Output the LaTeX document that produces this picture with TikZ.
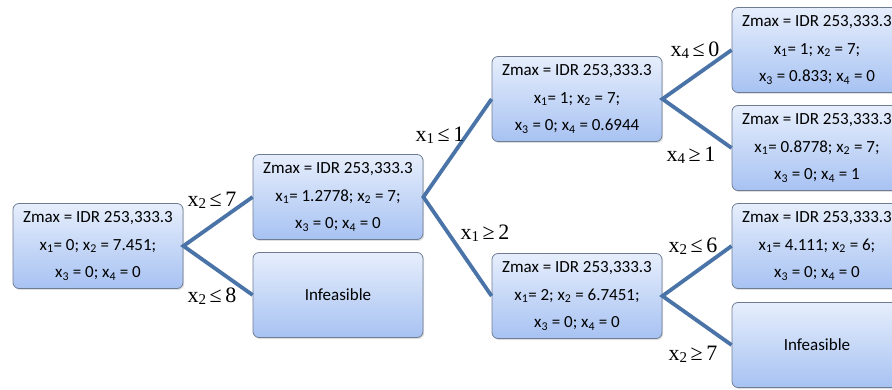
\documentclass[tikz,border=0pt]{standalone}
\usepackage{fontspec}
\setmainfont{Carlito}
\newfontfamily\tnr{Liberation Serif}
\usetikzlibrary{shadows}
\definecolor{boxtop}{HTML}{E6EEFC}
\definecolor{boxbot}{HTML}{A7C2F2}
\definecolor{boxborder}{HTML}{6F7D94}
\definecolor{linec}{HTML}{4A73A8}
\newcommand\xs[1]{x\textsubscript{#1}}
\newcommand\lbl[3]{x\raisebox{-0.2ex}{\fontsize{15}{15}\selectfont #1}\,#2\,#3}
\begin{document}
\begin{tikzpicture}[x=1pt,y=-1pt,
  box/.style={draw=boxborder, line width=0.8pt, rounded corners=6pt,
    top color=boxtop, bottom color=boxbot, minimum width=170pt, minimum height=85pt,
    align=center, font=\fontsize{17}{27.5}\selectfont, inner sep=0pt,
    drop shadow={shadow xshift=1.2pt, shadow yshift=-1.5pt, opacity=0.25}},
  conn/.style={draw=linec, line width=3.8pt},
  lab/.style={font=\tnr\fontsize{22}{22}\selectfont, inner sep=0pt}]
\useasboundingbox (0,0) rectangle (892,390);
\clip (0,0) rectangle (892,390);
\node[box] (r) at (98,246) {Zmax = IDR 253,333.3\\\xs{1}= 0; \xs{2} = 7.451;\\\xs{3} = 0; \xs{4} = 0};
\node[box] (a) at (338,197) {Zmax = IDR 253,333.3\\\xs{1}= 1.2778; \xs{2} = 7;\\\xs{3} = 0; \xs{4} = 0};
\node[box] (i1) at (338,295) {Infeasible};
\node[box] (b) at (577,99) {Zmax = IDR 253,333.3\\\xs{1}= 1; \xs{2} = 7;\\\xs{3} = 0; \xs{4} = 0.6944};
\node[box] (c) at (577,296) {Zmax = IDR 253,333.3\\\xs{1}= 2; \xs{2} = 6.7451;\\\xs{3} = 0; \xs{4} = 0};
\node[box] (d) at (817,50) {Zmax = IDR 253,333.3\\\xs{1}= 1; \xs{2} = 7;\\\xs{3} = 0.833; \xs{4} = 0};
\node[box] (e) at (817,148) {Zmax = IDR 253,333.3\\\xs{1}= 0.8778; \xs{2} = 7;\\\xs{3} = 0; \xs{4} = 1};
\node[box] (f) at (817,246) {Zmax = IDR 253,333.3\\\xs{1}= 4.111; \xs{2} = 6;\\\xs{3} = 0; \xs{4} = 0};
\node[box] (i2) at (817,345) {Infeasible};
\draw[conn] (a.west) -- (r.east) -- (i1.west);
\draw[conn] (b.west) -- (a.east) -- (c.west);
\draw[conn] (d.west) -- (b.east) -- (e.west);
\draw[conn] (f.west) -- (c.east) -- (i2.west);
\node[lab] (l1) at (212,200) {\lbl{2}{≤}{7}};
\node[lab] (l2) at (212,296) {\lbl{2}{≤}{8}};
\node[lab] (l3) at (440,135) {\lbl{1}{≤}{1}};
\node[lab] (l4) at (485,233) {\lbl{1}{≥}{2}};
\node[lab] (l5) at (695,50) {\lbl{4}{≤}{0}};
\node[lab] (l6) at (691,155) {\lbl{4}{≥}{1}};
\node[lab] (l7) at (693,246) {\lbl{2}{≤}{6}};
\node[lab] (l8) at (693,354) {\lbl{2}{≥}{7}};
\end{tikzpicture}
\end{document}
